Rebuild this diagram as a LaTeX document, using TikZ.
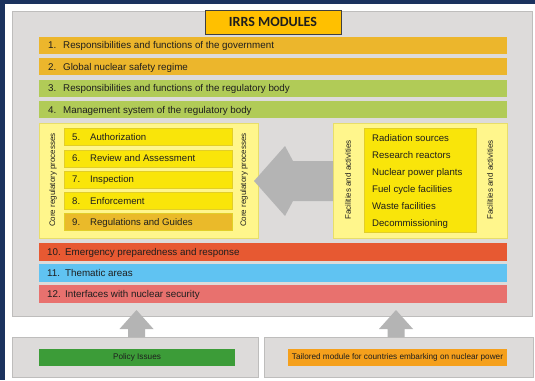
\documentclass[tikz,border=0pt]{standalone}
\usepackage{fontspec}
\setmainfont{Liberation Sans}
\newfontfamily\headfont{Carlito}

\definecolor{navy}{RGB}{27,50,94}
\definecolor{panelgray}{RGB}{221,219,218}
\definecolor{panelline}{RGB}{190,189,188}
\definecolor{titlegold}{RGB}{255,192,0}
\definecolor{govgold}{RGB}{236,182,44}
\definecolor{regreen}{RGB}{177,203,87}
\definecolor{paleyellow}{RGB}{255,246,140}
\definecolor{paleline}{RGB}{232,222,105}
\definecolor{procyellow}{RGB}{249,229,10}
\definecolor{procline}{RGB}{226,206,40}
\definecolor{procgold}{RGB}{234,186,42}
\definecolor{emergred}{RGB}{231,89,50}
\definecolor{themeblue}{RGB}{96,195,242}
\definecolor{secred}{RGB}{232,113,110}
\definecolor{policygreen}{RGB}{60,156,56}
\definecolor{tailororange}{RGB}{245,160,28}
\definecolor{arrowgray}{RGB}{180,180,180}
\definecolor{ink}{RGB}{30,30,30}

\begin{document}
\begin{tikzpicture}[
    x=1pt, y=-1pt,
    box/.style={anchor=north west, inner sep=0pt, outer sep=0pt},
    bar/.style={box, minimum width=468pt, minimum height=17pt},
    item/.style={box, minimum width=168pt, minimum height=17pt, draw=procline},
    panel/.style={box, draw=panelline, fill=panelgray},
    txt/.style={anchor=west, inner sep=0pt, text=ink, text height=7pt, text depth=0pt,
      font=\fontsize{9.6}{11}\selectfont},
    side/.style={rotate=90, inner sep=0pt, text=ink, font=\fontsize{8}{9}\selectfont},
    tag/.style={box, minimum height=17pt, text=ink, font=\fontsize{8.2}{9}\selectfont},
  ]
    \useasboundingbox (0,0) rectangle (535,380);
    \fill[navy] (0,0) rectangle (535,380);
    \fill[white] (5,4) rectangle (535,380);

    % main panel and heading
    \node[panel, minimum width=520pt, minimum height=305pt] (frame) at (12,11) {};
    \node[box, draw=ink!85, fill=titlegold, minimum width=136pt, minimum height=24pt,
      text=ink, font=\headfont\bfseries\fontsize{14}{16}\selectfont] (title) at (205,10) {IRRS MODULES};

    % modules 1-4
    \foreach \lbl/\col [count=\i] in {Responsibilities and functions of the government/govgold,
        Global nuclear safety regime/govgold,
        Responsibilities and functions of the regulatory body/regreen,
        Management system of the regulatory body/regreen} {
      \pgfmathsetmacro{\y}{15 + \i*21.5}
      \node[bar, fill=\col] (m\i) at (39,\y) {};
      \node[txt, font=\fontsize{9.8}{12}\selectfont] (m\i-text) at ([xshift=9pt]m\i.west) {\makebox[15pt][l]{\i.}\lbl};
    }

    % core regulatory processes 5-9
    \node[box, draw=paleline, fill=paleyellow, minimum width=219pt, minimum height=115pt] (core) at (39,123) {};
    \foreach \lbl/\col [count=\i from 5] in {Authorization/procyellow, Review and Assessment/procyellow,
        Inspection/procyellow, Enforcement/procyellow, Regulations and Guides/procgold} {
      \pgfmathsetmacro{\y}{128.5 + (\i-5)*21.2}
      \node[item, fill=\col] (m\i) at (64,\y) {};
      \node[txt] (m\i-text) at ([xshift=8pt]m\i.west) {\makebox[18pt][l]{\i.}\lbl};
    }
    \node[side] (core-l) at (53,180) {Core regulatory processes};
    \node[side] (core-r) at (244,180) {Core regulatory processes};

    % facilities and activities
    \node[box, draw=paleline, fill=paleyellow, minimum width=174pt, minimum height=115pt] (fac) at (333,123) {};
    \node[box, draw=procline, fill=procyellow, minimum width=112pt, minimum height=104pt] (fac-list) at (364,128) {};
    \foreach \lbl [count=\i] in {Radiation sources, Research reactors, Nuclear power plants,
        Fuel cycle facilities, Waste facilities, Decommissioning} {
      \pgfmathsetmacro{\y}{121 + \i*17}
      \node[txt] (f\i) at (372,\y) {\lbl};
    }
    \node[side] (fac-l) at (348,180) {Facilities and activities};
    \node[side] (fac-r) at (490,180) {Facilities and activities};

    % big arrow from facilities to processes
    \fill[arrowgray] (254,181) -- (285,146) -- (293,161) -- (333,161) -- (333,201)
      -- (293,201) -- (285,216) -- cycle;

    % modules 10-12
    \foreach \lbl/\col [count=\i from 10] in {Emergency preparedness and response/emergred,
        Thematic areas/themeblue, Interfaces with nuclear security/secred} {
      \pgfmathsetmacro{\y}{243 + (\i-10)*21.2}
      \node[bar, fill=\col, minimum height=17.5pt] (m\i) at (39,\y) {};
      \node[txt, font=\fontsize{9.8}{12}\selectfont] (m\i-text) at ([xshift=8pt]m\i.west) {\makebox[18pt][l]{\i.}\lbl};
    }

    % extra modules below
    \node[panel, minimum width=246pt, minimum height=40pt] (policy-panel) at (12,337) {};
    \node[panel, minimum width=269pt, minimum height=40pt] (tailor-panel) at (264,337) {};
    \node[tag, fill=policygreen, minimum width=196pt] (policy) at (39,349) {Policy Issues};
    \node[tag, fill=tailororange, minimum width=219pt] (tailor) at (288,349)
      {Tailored module for countries embarking on nuclear power};

    % up arrows into the main panel
    \foreach \cx in {136.5, 396} {
      \fill[arrowgray] (\cx,310) -- (\cx+17,329) -- (\cx+8.5,329) -- (\cx+8.5,337)
        -- (\cx-8.5,337) -- (\cx-8.5,329) -- (\cx-17,329) -- cycle;
    }
\end{tikzpicture}
\end{document}
